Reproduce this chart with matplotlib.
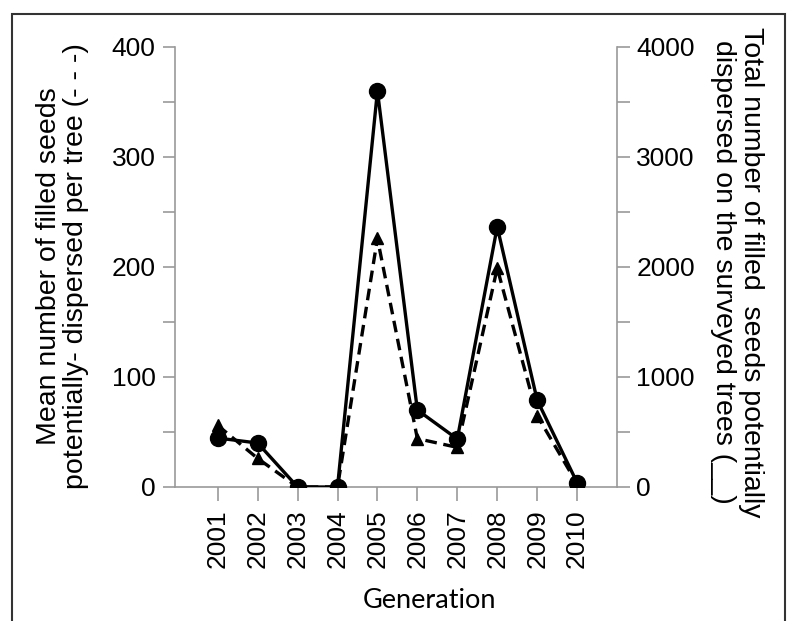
import matplotlib
matplotlib.use("Agg")
import matplotlib.pyplot as plt
from matplotlib.patches import Rectangle
from matplotlib.ticker import MultipleLocator

years = [2001, 2002, 2003, 2004, 2005, 2006, 2007, 2008, 2009, 2010]
mean_per_tree = [56, 26, 0, 0, 226, 44, 36, 199, 65, 3]
total_seeds = [445, 400, 0, 0, 3600, 700, 436, 2366, 790, 40]
year_labels = [str(y) for y in years]

W, H = 794, 621
fig = plt.figure(figsize=(W / 100, H / 100), dpi=100)
fig.patch.set_facecolor("white")

L, R, T, B = 175, 617, 47, 487
ax = fig.add_axes([L / W, 1 - B / H, (R - L) / W, (B - T) / H])
ax2 = ax.twinx()

gray = "#9a9a9a"
tickfont = dict(family="Liberation Sans", size=19)

ax.plot(years, mean_per_tree, color="black", lw=2.4, ls=(0, (3.5, 2)),
        marker="^", ms=9, zorder=3)
ax2.plot(years, total_seeds, color="black", lw=2.4, ls="-",
         marker="o", ms=11.5, zorder=4)

ax.set_xlim(1999.93, 2011.0)
ax.set_ylim(0, 400)
ax2.set_ylim(0, 4000)

ax.set_xticks(years)
ax.set_xticklabels(year_labels, rotation=90, **tickfont)
ax.set_yticks([0, 100, 200, 300, 400])
ax.set_yticklabels(["0", "100", "200", "300", "400"], **tickfont)
ax.yaxis.set_minor_locator(MultipleLocator(50))
ax2.set_yticks([0, 1000, 2000, 3000, 4000])
ax2.set_yticklabels(["0", "1000", "2000", "3000", "4000"], **tickfont)
ax2.yaxis.set_minor_locator(MultipleLocator(500))

for a in (ax, ax2):
    a.spines["top"].set_visible(False)
    for s in ("left", "right", "bottom"):
        a.spines[s].set_color(gray)
        a.spines[s].set_linewidth(1.2)
    a.tick_params(which="both", color=gray, width=1.2, length=9, direction="out")
    a.tick_params(which="major", pad=5, labelcolor="black")
ax.spines["right"].set_visible(False)
ax2.spines["left"].set_visible(False)
ax2.spines["bottom"].set_visible(False)
ax.tick_params(axis="x", length=10, pad=6)

fig.text(63 / W, 1 - 266 / H,
         "Mean number of filled seeds\npotentially- dispersed per tree (- - -)",
         rotation=90, ha="center", va="center", multialignment="center",
         family="Liberation Sans", size=20.5, linespacing=1.05)
fig.text(737 / W, 1 - 272 / H,
         "Total number of filled  seeds potentially\ndispersed on the surveyed trees (__)",
         rotation=270, ha="center", va="center", multialignment="center",
         family="Liberation Sans", size=20.5, linespacing=1.05)
fig.text(429 / W, 1 - 601 / H, "Generation", ha="center", va="center",
         family="Lato", size=19.5)

fig.patches.append(Rectangle((12 / W, -0.05), (785 - 12) / W, (1 - 14 / H) + 0.05,
                             transform=fig.transFigure, fill=False,
                             edgecolor="#333333", lw=1.5))

fig.savefig("out.png", dpi=100)
